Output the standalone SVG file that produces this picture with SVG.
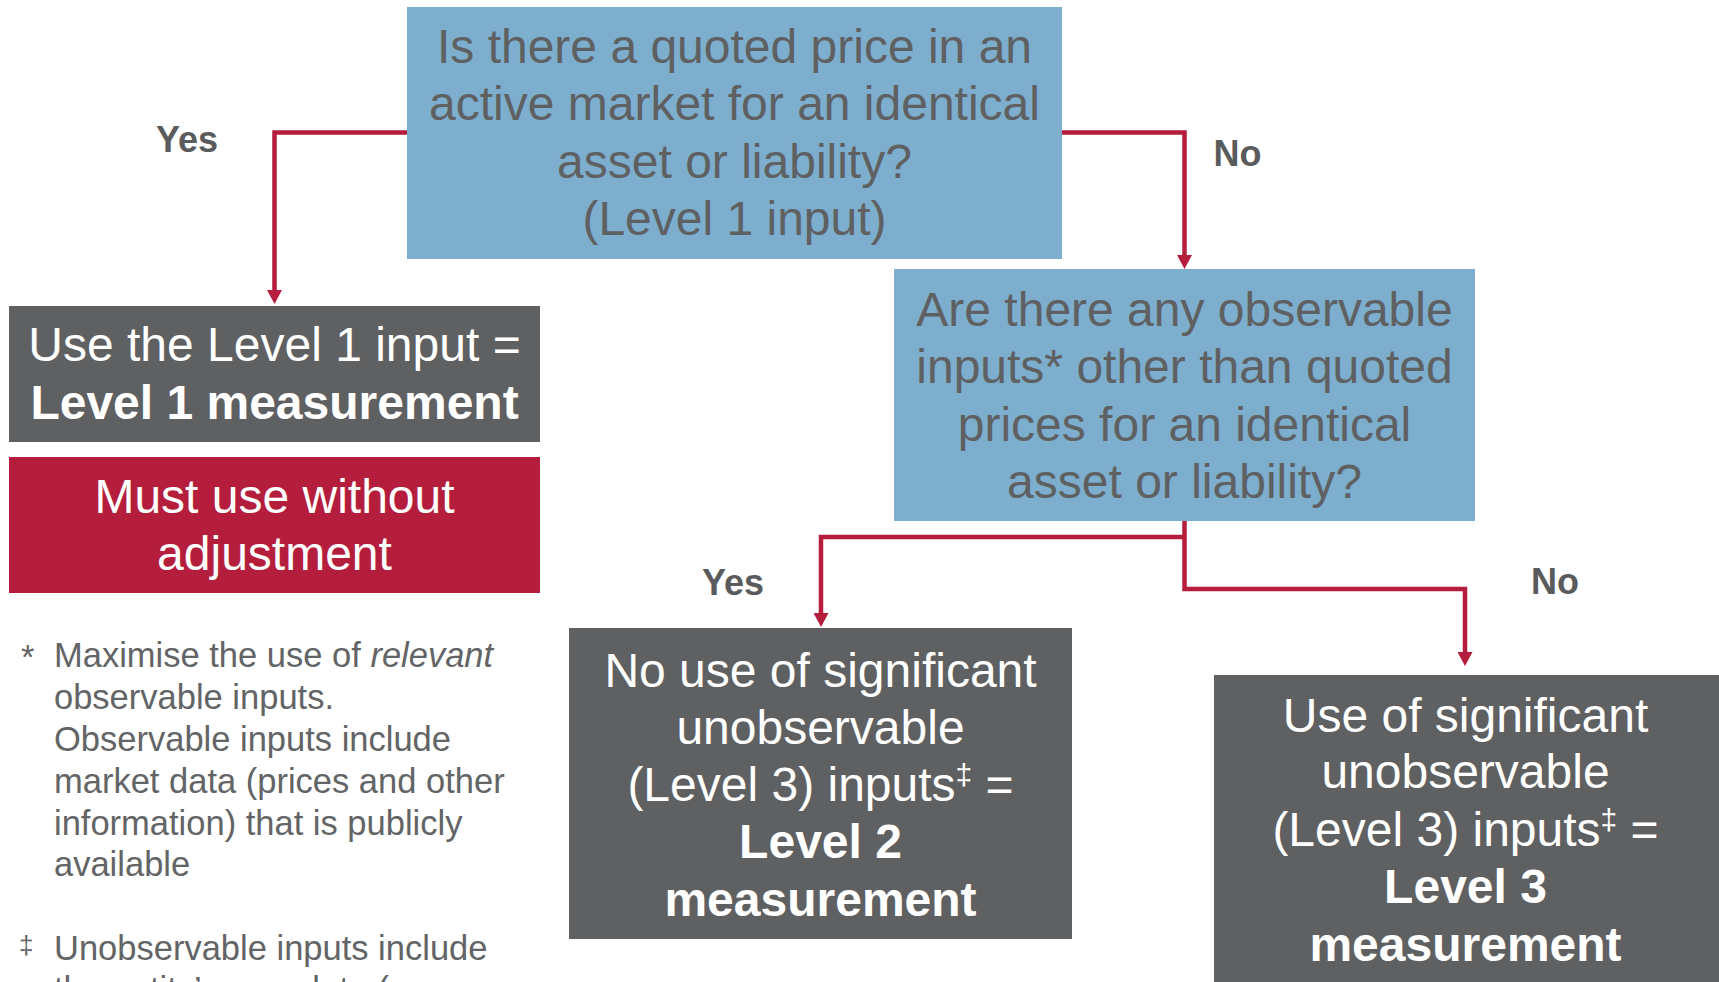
<svg xmlns="http://www.w3.org/2000/svg" width="1719" height="982" viewBox="0 0 1719 982">
  <style>
    text { font-family: "Liberation Sans", Arial, sans-serif; }
    .q-box { fill: #7daecd; }
    .out-box { fill: #5f6062; }
    .warn-box { fill: #b41e3c; }
    .q-text { font-size: 48px; fill: #5f6062; text-anchor: middle; }
    .out-text { font-size: 48px; fill: #ffffff; text-anchor: middle; }
    .bold { font-weight: bold; }
    .label { font-size: 36px; font-weight: bold; fill: #5a5b5d; text-anchor: middle; }
    .note { font-size: 34.5px; fill: #636466; }
    .wire { fill: none; stroke: #b41e3c; stroke-width: 4.5; stroke-linejoin: miter; }
    .sup { font-size: 30px; }
  </style>
  <defs>
    <marker id="arrow" viewBox="0 0 14 15" refX="0" refY="7.5" markerWidth="14" markerHeight="15" markerUnits="userSpaceOnUse" orient="auto">
      <path d="M0,0 L14,7.5 L0,15 z" fill="#b41e3c"/>
    </marker>
  </defs>

  <rect width="1719" height="982" fill="#ffffff"/>

  <!-- connectors -->
  <g id="connectors">
    <path class="wire" d="M407,132.5 H274.5 V290" marker-end="url(#arrow)"/>
    <path class="wire" d="M1062,132.5 H1184.5 V255" marker-end="url(#arrow)"/>
    <path class="wire" d="M1184.5,537 H821 V613" marker-end="url(#arrow)"/>
    <path class="wire" d="M1184.5,520 V589 H1465 V652" marker-end="url(#arrow)"/>
    <text class="label" x="187" y="152">Yes</text>
    <text class="label" x="1237.5" y="166">No</text>
    <text class="label" x="733" y="595">Yes</text>
    <text class="label" x="1555" y="594">No</text>
  </g>

  <!-- level 1 question -->
  <g id="q-level1">
    <rect class="q-box" x="407" y="7" width="655" height="252"/>
    <text class="q-text" x="734.5" y="62.5">Is there a quoted price in an</text>
    <text class="q-text" x="734.5" y="120">active market for an identical</text>
    <text class="q-text" x="734.5" y="177.5">asset or liability?</text>
    <text class="q-text" x="734.5" y="235">(Level 1 input)</text>
  </g>

  <!-- observable inputs question -->
  <g id="q-observable">
    <rect class="q-box" x="894" y="269" width="581" height="252"/>
    <text class="q-text" x="1184.5" y="326">Are there any observable</text>
    <text class="q-text" x="1184.5" y="383">inputs* other than quoted</text>
    <text class="q-text" x="1184.5" y="441">prices for an identical</text>
    <text class="q-text" x="1184.5" y="498">asset or liability?</text>
  </g>

  <!-- level 1 outcome -->
  <g id="out-level1">
    <rect class="out-box" x="9" y="306" width="531" height="136"/>
    <text class="out-text" x="274.5" y="361">Use the Level 1 input =</text>
    <text class="out-text bold" x="274.5" y="419">Level 1 measurement</text>
  </g>

  <!-- level 1 rule -->
  <g id="rule-level1">
    <rect class="warn-box" x="9" y="457" width="531" height="136"/>
    <text class="out-text" x="274.5" y="513">Must use without</text>
    <text class="out-text" x="274.5" y="570">adjustment</text>
  </g>

  <!-- level 2 outcome -->
  <g id="out-level2">
    <rect class="out-box" x="569" y="628" width="503" height="311"/>
    <text class="out-text" x="820.5" y="687">No use of significant</text>
    <text class="out-text" x="820.5" y="743.5">unobservable</text>
    <text class="out-text" x="820.5" y="801">(Level 3) inputs<tspan class="sup" dy="-16">‡</tspan><tspan dy="16"> =</tspan></text>
    <text class="out-text bold" x="820.5" y="858">Level 2</text>
    <text class="out-text bold" x="820.5" y="916">measurement</text>
  </g>

  <!-- level 3 outcome -->
  <g id="out-level3">
    <rect class="out-box" x="1214" y="675" width="505" height="320"/>
    <text class="out-text" x="1465.5" y="731.5">Use of significant</text>
    <text class="out-text" x="1465.5" y="788">unobservable</text>
    <text class="out-text" x="1465.5" y="846">(Level 3) inputs<tspan class="sup" dy="-16">‡</tspan><tspan dy="16"> =</tspan></text>
    <text class="out-text bold" x="1465.5" y="903">Level 3</text>
    <text class="out-text bold" x="1465.5" y="960.5">measurement</text>
  </g>

  <!-- footnotes -->
  <g id="footnotes">
    <text class="note" x="21" y="669" font-size="28">*</text>
    <text class="note" x="54" y="667">Maximise the use of <tspan font-style="italic">relevant</tspan></text>
    <text class="note" x="54" y="709">observable inputs.</text>
    <text class="note" x="54" y="751">Observable inputs include</text>
    <text class="note" x="54" y="793">market data (prices and other</text>
    <text class="note" x="54" y="835">information) that is publicly</text>
    <text class="note" x="54" y="876">available</text>
    <text class="note" x="19" y="954" style="font-size:26px">‡</text>
    <text class="note" x="54" y="960">Unobservable inputs include</text>
    <text class="note" x="54" y="1001">the entity’s own data (</text>
  </g>
</svg>
